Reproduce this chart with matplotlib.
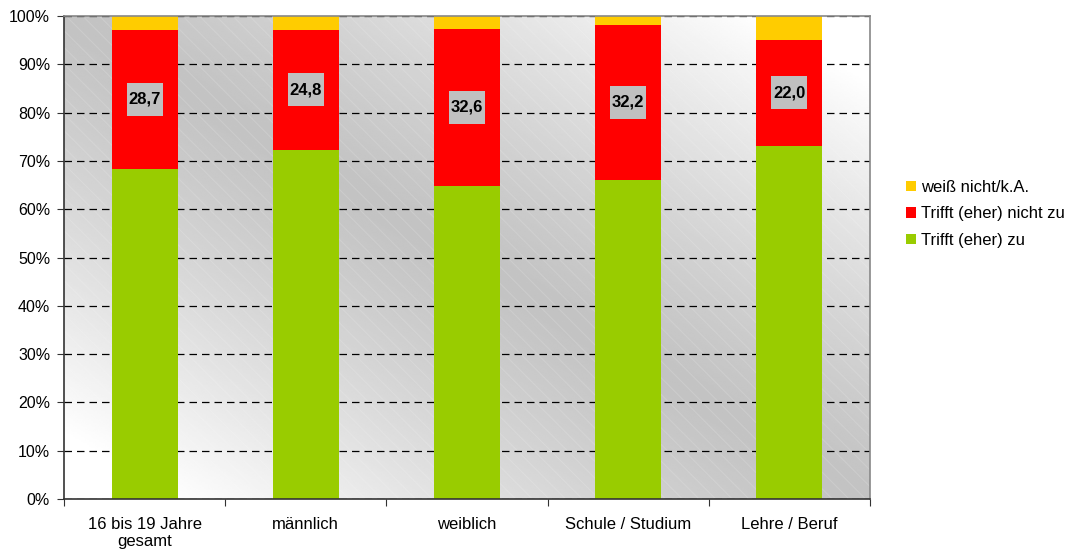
import numpy as np
import matplotlib
matplotlib.use("Agg")
import matplotlib.pyplot as plt
from matplotlib.patches import Rectangle

plt.rcParams['font.family'] = ['Liberation Sans', 'DejaVu Sans']
plt.rcParams['hatch.linewidth'] = 0.8

# data (percent)
categories = ["16 bis 19 Jahre\ngesamt", "männlich", "weiblich", "Schule / Studium", "Lehre / Beruf"]
trifft_zu = [68.4, 72.3, 64.8, 66.0, 73.1]
trifft_nicht = [28.7, 24.8, 32.6, 32.2, 22.0]
weiss_nicht = [2.9, 2.9, 2.6, 1.8, 4.9]
value_labels = ["28,7", "24,8", "32,6", "32,2", "22,0"]

col_green = "#99CC00"
col_red = "#FF0000"
col_yellow = "#FFCC00"

fig = plt.figure(figsize=(10.69, 5.55), dpi=100)
ax = fig.add_axes([64 / 1069, 56 / 555, 806 / 1069, 483 / 555])

# background gradient: dark along the diagonal top-left -> bottom-right
u, v = np.meshgrid(np.linspace(0, 1, 400), np.linspace(1, 0, 300))
d = np.abs(u + v - 1)
shade = 0.765 + 0.235 * np.clip(d * 1.15, 0, 1) ** 1.3
ax.imshow(shade, cmap="gray", vmin=0, vmax=1, extent=[0, 1, 0, 1],
          transform=ax.transAxes, aspect="auto", zorder=0, interpolation="bilinear")
# faint diagonal stripes
ax.add_patch(Rectangle((0, 0), 1, 1, transform=ax.transAxes, fc="none",
                       ec=(1, 1, 1, 0.14), lw=0, hatch="\\\\", zorder=0.2))

x = np.arange(len(categories))
w = 0.41
g = np.array(trifft_zu)
r = np.array(trifft_nicht)
y = np.array(weiss_nicht)
ax.bar(x, g, w, color=col_green, label="Trifft (eher) zu", zorder=2)
ax.bar(x, r, w, bottom=g, color=col_red, label="Trifft (eher) nicht zu", zorder=2)
ax.bar(x, y, w, bottom=g + r, color=col_yellow, label="weiß nicht/k.A.", zorder=2)

# value labels in grey boxes
bw, bh = 0.224, 6.8
for xi, gi, ri, lab in zip(x, g, r, value_labels):
    yc = gi + ri / 2
    ax.add_patch(Rectangle((xi - bw / 2, yc - bh / 2), bw, bh, fc="#C0C0C0", ec="none", zorder=3))
    ax.text(xi, yc, lab, ha="center", va="center", fontsize=12,
            fontweight="bold", zorder=4)

ax.set_xlim(-0.5, len(categories) - 0.5)
ax.set_ylim(0, 100)
ax.set_yticks(np.arange(0, 101, 10))
ax.set_yticklabels([f"{t}%" for t in range(0, 101, 10)], fontsize=11.5)

ax.set_xticks(np.arange(-0.5, len(categories), 1))
ax.set_xticklabels([])
ax.set_xticks(x, minor=True)
ax.set_xticklabels(categories, minor=True, fontsize=12, linespacing=1.15)
ax.tick_params(axis="x", which="minor", length=0, pad=13)
ax.tick_params(axis="x", which="major", length=5, color="#333333")
ax.tick_params(axis="y", length=5, color="#333333", pad=5)

ax.grid(axis="y", color="black", linestyle=(0, (6, 4)), linewidth=0.9, zorder=1)
ax.set_axisbelow(True)

ax.spines["left"].set_color("#333333")
ax.spines["bottom"].set_color("#333333")
ax.spines["top"].set_color("#888888")
ax.spines["right"].set_color("#888888")
for s in ax.spines.values():
    s.set_linewidth(1.2)

handles, labels = ax.get_legend_handles_labels()
fig.legend(handles[::-1], labels[::-1], loc="upper left",
           bbox_to_anchor=(906 / 1069, 1 - 180 / 555), frameon=False, fontsize=12,
           handlelength=0.6, handleheight=0.6, handletextpad=0.3, labelspacing=0.68,
           borderpad=0, borderaxespad=0)

fig.savefig("out.png", dpi=100)
